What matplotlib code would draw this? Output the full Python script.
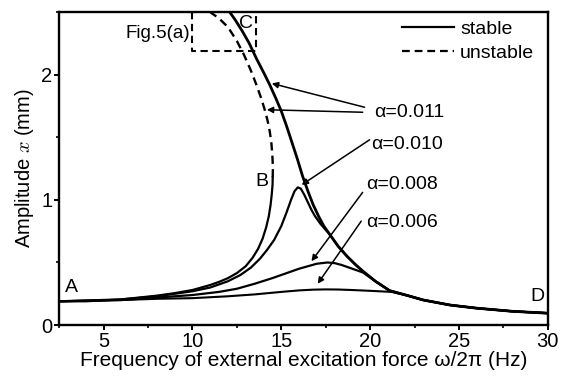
import matplotlib
matplotlib.use("Agg")
import matplotlib.pyplot as plt
from matplotlib.lines import Line2D
from matplotlib.ticker import MultipleLocator

plt.rcParams['font.family'] = ['Liberation Sans', 'DejaVu Sans']
plt.rcParams['mathtext.fontset'] = 'cm'

# ---- data ----
# alpha = 0.011 : lower stable branch
a011_low_x = [2.5, 4.0, 6.0, 8.0, 9.0, 10.0, 11.0, 11.5, 12.0, 12.5, 13.0, 13.4, 13.7, 13.95,
              14.15, 14.3, 14.4, 14.47, 14.51, 14.52]
a011_low_y = [0.19, 0.19, 0.205, 0.235, 0.255, 0.28, 0.32, 0.345, 0.375, 0.415, 0.47, 0.54,
              0.61, 0.69, 0.78, 0.87, 0.96, 1.05, 1.12, 1.18]
# alpha = 0.011 : unstable branch
a011_uns_x = [14.52, 14.53, 14.5, 14.44, 14.35, 14.22, 14.05, 13.85, 13.6, 13.3, 12.9, 12.5,
              12.0, 11.5, 11.0]
a011_uns_y = [1.18, 1.26, 1.36, 1.46, 1.55, 1.64, 1.73, 1.82, 1.92, 2.03, 2.16, 2.27,
              2.38, 2.45, 2.50]
# alpha = 0.011 : upper stable branch (down to D)
a011_up_x = [12.1, 12.4, 12.8, 13.2, 13.6, 14.0, 14.35, 14.7, 15.0, 15.3, 15.6, 15.9, 16.2,
             16.5, 16.8, 17.1, 17.4, 17.7, 18.2, 18.7, 19.2, 19.6, 20.3, 21.1, 22.0, 23.0,
             24.5, 26.0, 28.0, 30.0]
a011_up_y = [2.50, 2.44, 2.35, 2.25, 2.13, 2.02, 1.92, 1.81, 1.71, 1.59, 1.46, 1.33, 1.19,
             1.07, 0.96, 0.87, 0.79, 0.73, 0.63, 0.55, 0.48, 0.43, 0.35, 0.275, 0.24, 0.20,
             0.16, 0.135, 0.11, 0.095]
# alpha = 0.010
a010_x = [2.5, 6.0, 8.0, 10.0, 11.0, 12.0, 12.7, 13.3, 13.8, 14.2, 14.6, 15.0, 15.3, 15.55,
          15.75, 15.93, 16.1, 16.3, 16.5, 16.7, 16.9, 17.2, 17.5, 17.7, 18.2, 18.7, 19.2,
          19.6, 20.3, 21.1, 22.0, 23.0, 24.5, 26.0, 28.0, 30.0]
a010_y = [0.19, 0.205, 0.23, 0.27, 0.30, 0.35, 0.40, 0.46, 0.53, 0.60, 0.68, 0.79, 0.90, 1.00,
          1.07, 1.10, 1.09, 1.04, 0.98, 0.92, 0.87, 0.81, 0.76, 0.73, 0.63, 0.55, 0.48,
          0.43, 0.35, 0.275, 0.24, 0.20, 0.16, 0.135, 0.11, 0.095]
# alpha = 0.008
a008_x = [2.5, 6.0, 8.0, 10.0, 11.5, 12.5, 13.5, 14.5, 15.0, 15.5, 16.0, 16.5, 17.0, 17.6,
          18.0, 18.4, 18.8, 19.2, 19.6, 20.3, 21.1, 22.0, 23.0, 24.5, 26.0, 28.0, 30.0]
a008_y = [0.19, 0.20, 0.22, 0.24, 0.265, 0.29, 0.33, 0.375, 0.40, 0.425, 0.45, 0.47, 0.49,
          0.50, 0.495, 0.48, 0.46, 0.44, 0.42, 0.35, 0.275, 0.24, 0.20, 0.16, 0.135, 0.11, 0.095]
# alpha = 0.006
a006_x = [2.5, 6.0, 8.0, 10.0, 12.0, 13.5, 15.0, 16.0, 16.8, 17.5, 18.2, 19.0, 19.8, 20.5,
          21.2, 22.0, 23.0, 24.5, 26.0, 28.0, 30.0]
a006_y = [0.19, 0.20, 0.21, 0.215, 0.23, 0.245, 0.265, 0.277, 0.283, 0.285, 0.284, 0.28,
          0.275, 0.27, 0.265, 0.24, 0.20, 0.16, 0.135, 0.11, 0.095]

# Fig.5(a) zoom box
box_x = [10.0, 10.0, 13.6, 13.6]
box_y = [2.5, 2.19, 2.19, 2.5]

# annotation labels: (text, text pos, [(start, tip), ...])
labels = ["\u03b1=0.011", "\u03b1=0.010", "\u03b1=0.008", "\u03b1=0.006"]
label_pos = [(20.25, 1.70), (20.08, 1.44), (19.8, 1.12), (19.8, 0.82)]
arrow_pairs = [
    [((19.69, 1.74), (14.47, 1.93)), ((19.58, 1.70), (14.19, 1.72))],
    [((19.97, 1.48), (16.15, 1.12))],
    [((19.58, 1.06), (16.70, 0.51))],
    [((19.50, 0.83), (17.05, 0.33))],
]

point_labels = ["A", "B", "C", "D"]
point_pos = [(3.17, 0.30), (13.9, 1.15), (13.0, 2.41), (29.4, 0.23)]

fig = plt.figure(figsize=(5.63, 3.78), dpi=100)
ax = fig.add_axes([0.105, 0.14, 0.868, 0.828])

dash = (0, (3.5, 2.2))
ax.plot(a006_x, a006_y, color='black', lw=1.5)
ax.plot(a008_x, a008_y, color='black', lw=1.6)
ax.plot(a010_x, a010_y, color='black', lw=1.6)
ax.plot(a011_low_x, a011_low_y, color='black', lw=1.6)
ax.plot(a011_uns_x, a011_uns_y, color='black', lw=1.7, linestyle=dash)
ax.plot(a011_up_x, a011_up_y, color='black', lw=2.0)
ax.plot(box_x, box_y, color='black', lw=1.5, linestyle=dash, clip_on=False)

for txt, pos, pairs in zip(labels, label_pos, arrow_pairs):
    ax.text(pos[0], pos[1], txt, fontsize=14, ha='left', va='center')
    for start, tip in pairs:
        ax.annotate('', xy=tip, xytext=start,
                    arrowprops=dict(arrowstyle='-|>', color='black', lw=1.1,
                                    mutation_scale=9, shrinkA=0, shrinkB=0))

for txt, pos in zip(point_labels, point_pos):
    ax.text(pos[0], pos[1], txt, fontsize=14, ha='center', va='center')

ax.text(9.9, 2.33, "Fig.5(a)", fontsize=13.5, ha='right', va='center')

handles = [Line2D([], [], color='black', lw=1.6),
           Line2D([], [], color='black', lw=1.6, linestyle=dash)]
ax.legend(handles, ["stable", "unstable"], loc='upper right', bbox_to_anchor=(0.972, 0.975),
          frameon=False, fontsize=14, handlelength=2.7, handletextpad=0.3,
          labelspacing=0.35, borderpad=0, borderaxespad=0)

ax.set_xlim(2.5, 30)
ax.set_ylim(0, 2.5)
ax.xaxis.set_major_locator(MultipleLocator(5))
ax.xaxis.set_minor_locator(MultipleLocator(2.5))
ax.yaxis.set_major_locator(MultipleLocator(1))
ax.yaxis.set_minor_locator(MultipleLocator(0.5))
ax.tick_params(which='major', direction='out', length=3.8, width=1.4, labelsize=14.5, pad=1)
ax.tick_params(which='minor', direction='out', length=2.5, width=1.2)
for s in ax.spines.values():
    s.set_linewidth(1.7)

ax.set_xlabel("Frequency of external excitation force \u03c9/2\u03c0 (Hz)", fontsize=15, labelpad=0)
ax.set_ylabel("Amplitude $x$ (mm)", fontsize=14.5, labelpad=4)

fig.savefig("out.png", dpi=100)
